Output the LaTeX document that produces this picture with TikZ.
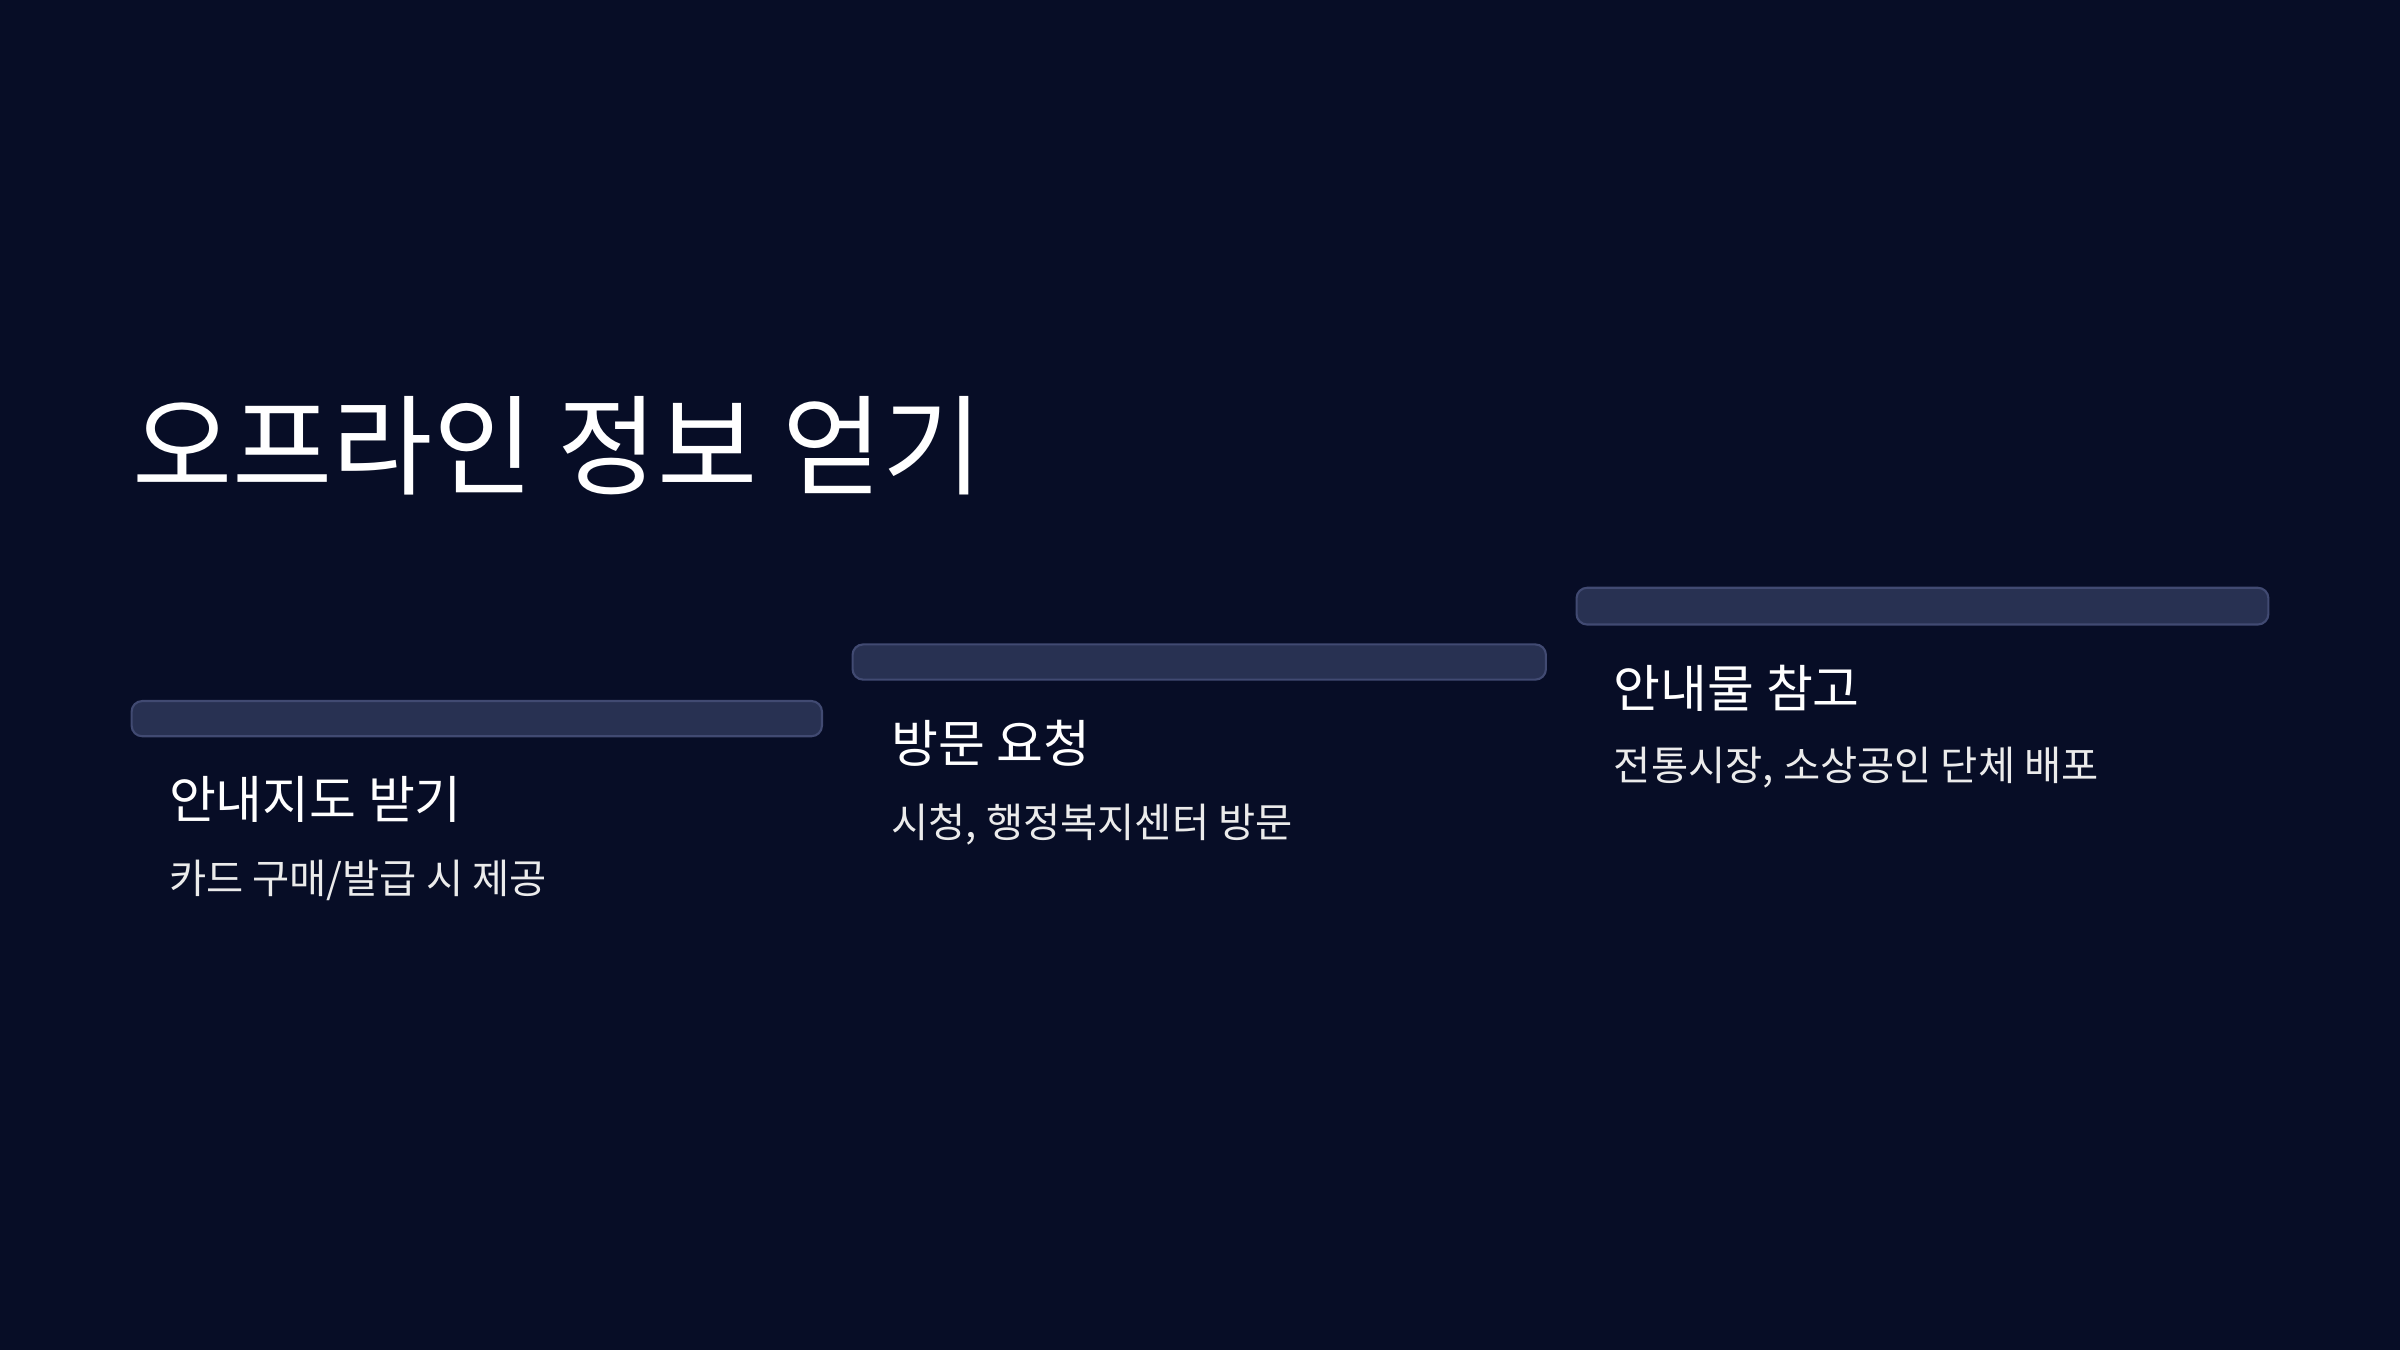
\documentclass[tikz,border=0pt]{standalone}
\usepackage{fontspec}
\setmainfont{Noto Sans CJK KR}
\definecolor{pagebg}{HTML}{070D26}
\definecolor{barfill}{HTML}{283152}
\definecolor{barline}{HTML}{414A72}
\tikzset{
  stepbar/.style={draw=barline, fill=barfill, rounded corners=3pt, line width=0.6pt},
  headtext/.style={anchor=base west, text=white, font=\fontsize{14.5}{17}\selectfont, inner sep=0pt},
  subtext/.style={anchor=base west, text=white!92!black, font=\fontsize{11.5}{14}\selectfont, inner sep=0pt},
}
\begin{document}
\begin{tikzpicture}[x=0.015306cm, y=-0.015306cm]
  \fill[pagebg] (0,0) rectangle (1568,882);
  \useasboundingbox (0,0) rectangle (1568,882);
  % title
  \node[anchor=base west, text=white, inner sep=0pt, font=\fontsize{31}{36}\selectfont] (title) at (86,318) {오프라인 정보 얻기};
  % steps
  \draw[stepbar] (86,458) rectangle (537,481);
  \node[headtext] (head1) at (110,535) {안내지도 받기};
  \node[subtext] (sub1) at (110,584) {카드 구매/발급 시 제공};
  \draw[stepbar] (557,421) rectangle (1010,444);
  \node[headtext] (head2) at (582,498) {방문 요청};
  \node[subtext] (sub2) at (582,547) {시청, 행정복지센터 방문};
  \draw[stepbar] (1030,384) rectangle (1482,408);
  \node[headtext] (head3) at (1054,462) {안내물 참고};
  \node[subtext] (sub3) at (1054,510) {전통시장, 소상공인 단체 배포};
\end{tikzpicture}
\end{document}
